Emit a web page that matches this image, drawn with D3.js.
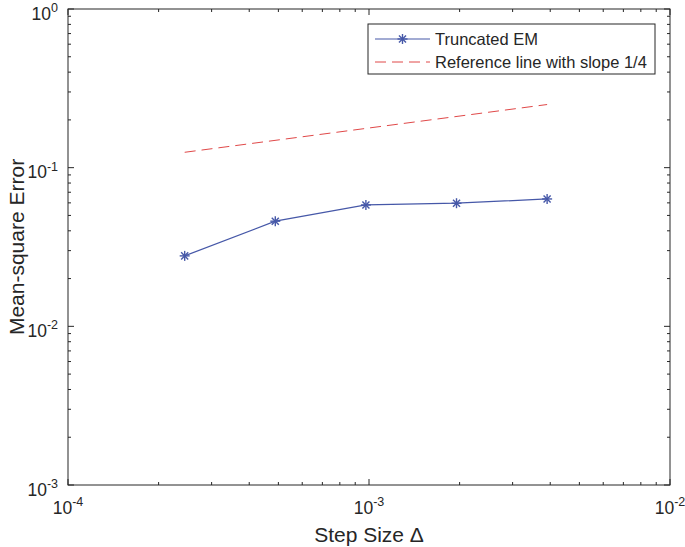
<!DOCTYPE html>
<html><head><meta charset="utf-8">
<script src="https://cdn.jsdelivr.net/npm/d3@7"></script>
<style>body{margin:0;background:#fff}svg{display:block}text{font-family:Arial,"Liberation Sans",sans-serif}</style>
</head><body>
<svg id="c" width="685" height="547"></svg>
<script>
const stepSizes = [Math.pow(2,-12), Math.pow(2,-11), Math.pow(2,-10), Math.pow(2,-9), Math.pow(2,-8)];
const mseValues = [0.0278, 0.0460, 0.0582, 0.0597, 0.0635];
const refValues = [0.125, 0.25];
const refSteps = [Math.pow(2,-12), Math.pow(2,-8)];
const xTickExps = [-4, -3, -2];
const yTickExps = [-3, -2, -1, 0];
const seriesNames = ["Truncated EM", "Reference line with slope 1/4"];

const svg = d3.select("#c");
const L = 68, R = 670, T = 9, B = 485;
const x = d3.scaleLog().domain([1e-4, 1e-2]).range([L, R]);
const y = d3.scaleLog().domain([1e-3, 1]).range([B, T]);
const blue = "#4658a8", red = "#e04848";

const minorX = [], minorY = [];
for (let e = -4; e < -2; e++) for (let k = 2; k <= 9; k++) minorX.push(k * Math.pow(10, e));
for (let e = -3; e < 0; e++) for (let k = 2; k <= 9; k++) minorY.push(k * Math.pow(10, e));
const tc = "#262626";
const g = svg.append("g");
minorX.forEach(v => {
  g.append("line").attr("x1", x(v)).attr("x2", x(v)).attr("y1", B).attr("y2", B - 3).attr("stroke", tc);
  g.append("line").attr("x1", x(v)).attr("x2", x(v)).attr("y1", T).attr("y2", T + 3).attr("stroke", tc);
});
minorY.forEach(v => {
  g.append("line").attr("y1", y(v)).attr("y2", y(v)).attr("x1", L).attr("x2", L + 3).attr("stroke", tc);
  g.append("line").attr("y1", y(v)).attr("y2", y(v)).attr("x1", R).attr("x2", R - 3).attr("stroke", tc);
});
xTickExps.forEach(e => {
  const v = Math.pow(10, e);
  g.append("line").attr("x1", x(v)).attr("x2", x(v)).attr("y1", B).attr("y2", B - 6).attr("stroke", tc);
  g.append("line").attr("x1", x(v)).attr("x2", x(v)).attr("y1", T).attr("y2", T + 6).attr("stroke", tc);
  const t = g.append("text").attr("x", x(v)).attr("y", B + 29).attr("text-anchor", "middle").attr("font-size", 17.5).attr("fill", tc);
  t.append("tspan").text("10");
  t.append("tspan").attr("dy", -8).attr("font-size", 12.5).text(e);
});
yTickExps.forEach(e => {
  const v = Math.pow(10, e);
  g.append("line").attr("y1", y(v)).attr("y2", y(v)).attr("x1", L).attr("x2", L + 6).attr("stroke", tc);
  g.append("line").attr("y1", y(v)).attr("y2", y(v)).attr("x1", R).attr("x2", R - 6).attr("stroke", tc);
  const t = g.append("text").attr("x", L - 10).attr("y", y(v) + 10.5).attr("text-anchor", "end").attr("font-size", 17.5).attr("fill", tc);
  t.append("tspan").text("10");
  t.append("tspan").attr("dy", -7.5).attr("font-size", 12.5).text(e);
});
g.append("rect").attr("x", L).attr("y", T).attr("width", R - L).attr("height", B - T).attr("fill", "none").attr("stroke", tc).attr("stroke-width", 1);

svg.append("text").attr("x", (L + R) / 2).attr("y", 542).attr("text-anchor", "middle").attr("font-size", 21).attr("fill", tc).text("Step Size Δ");
svg.append("text").attr("transform", `translate(24,${(T + B) / 2}) rotate(-90)`).attr("text-anchor", "middle").attr("font-size", 21).attr("fill", tc).text("Mean-square Error");

const line = d3.line().x(d => x(d[0])).y(d => y(d[1]));
svg.append("path").datum(refSteps.map((s, i) => [s, refValues[i]])).attr("d", line)
  .attr("fill", "none").attr("stroke", red).attr("stroke-width", 1).attr("stroke-dasharray", "11,6");

const pts = stepSizes.map((s, i) => [s, mseValues[i]]);
svg.append("path").datum(pts).attr("d", line).attr("fill", "none").attr("stroke", blue).attr("stroke-width", 1.2);
function asterisk(sel, cx, cy, r) {
  const gg = sel.append("g").attr("transform", `translate(${cx},${cy})`).attr("stroke", blue).attr("stroke-width", 1.4);
  [0, 45, 90, 135].forEach(a => {
    const rad = a * Math.PI / 180;
    gg.append("line").attr("x1", -r * Math.cos(rad)).attr("y1", -r * Math.sin(rad)).attr("x2", r * Math.cos(rad)).attr("y2", r * Math.sin(rad));
  });
}
pts.forEach(p => asterisk(svg, x(p[0]), y(p[1]), 5));

const lg = svg.append("g");
lg.append("rect").attr("x", 368).attr("y", 24).attr("width", 287).attr("height", 50).attr("fill", "#fff").attr("stroke", tc);
lg.append("line").attr("x1", 375).attr("x2", 430).attr("y1", 39).attr("y2", 39).attr("stroke", blue).attr("stroke-width", 1.2);
asterisk(lg, 402.5, 39, 5);
lg.append("line").attr("x1", 375).attr("x2", 430).attr("y1", 62).attr("y2", 62).attr("stroke", red).attr("stroke-dasharray", "11,6");
lg.append("text").attr("x", 435).attr("y", 45).attr("font-size", 16.5).attr("fill", tc).text(seriesNames[0]);
lg.append("text").attr("x", 435).attr("y", 68).attr("font-size", 16.5).attr("fill", tc).text(seriesNames[1]);
</script>
</body></html>
